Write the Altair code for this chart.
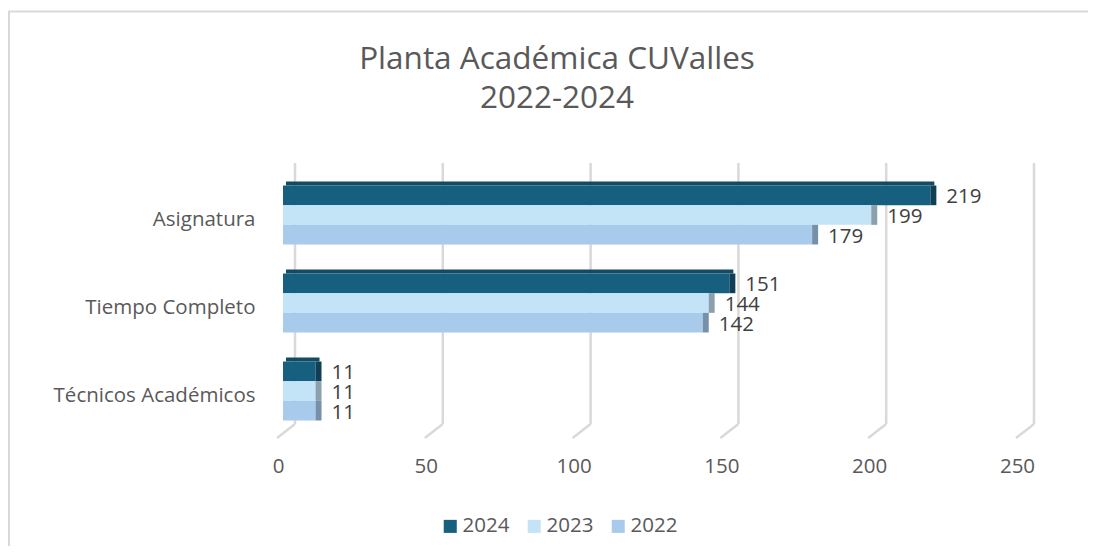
import altair as alt
import pandas as pd

categories = ["Asignatura", "Tiempo Completo", "Técnicos Académicos"]
years = ["2024", "2023", "2022"]
values_2024 = [219, 151, 11]
values_2023 = [199, 144, 11]
values_2022 = [179, 142, 11]
tick_values = [0, 50, 100, 150, 200, 250]
title_lines = ["Planta Académica CUValles", "2022-2024"]

face_colors = ["#175f7e", "#c3e4f6", "#a8cbeb"]
side_colors = ["#0f3f54", "#8aa0ae", "#7690aa"]
top_color = "#124b63"
text_color = "#595959"
grid_color = "#d9d9d9"
FONT = "Open Sans"
FS = 20.5

rows = []
for y, vals in zip(years, [values_2024, values_2023, values_2022]):
    for c, v in zip(categories, vals):
        rows.append({"category": c, "year": y, "value": v, "zero": 0})
df = pd.DataFrame(rows)
ticks_df = pd.DataFrame({"tick": tick_values})
one = pd.DataFrame({"k": [0]})

W, H = 739, 264

xscale = alt.Scale(domain=[0, 250], nice=False, zero=True)
yscale = alt.Scale(domain=categories, paddingInner=0.33, paddingOuter=0.165)
yoff_scale = alt.Scale(domain=years, paddingInner=0, paddingOuter=0)

x_axis = alt.Axis(values=tick_values, domain=False, ticks=False, grid=False,
                  labelFontSize=FS, labelColor=text_color, labelFont=FONT,
                  labelPadding=21, labelOffset=-5, labelFlush=False, title=None)
y_axis = alt.Axis(domain=False, ticks=False, grid=False, labelFontSize=FS,
                  labelColor=text_color, labelFont=FONT, labelPadding=28,
                  labelOffset=5, title=None, labelLimit=400)

grid_back = alt.Chart(ticks_df).mark_rule(color=grid_color, strokeWidth=2.5, xOffset=12).encode(
    x=alt.X("tick:Q", scale=xscale, axis=x_axis),
    y=alt.value(-8), y2=alt.value(253))
grid_diag = alt.Chart(ticks_df).mark_rule(color=grid_color, strokeWidth=2.5, xOffset=12, x2Offset=-6).encode(
    x=alt.X("tick:Q", scale=xscale), x2=alt.X2("tick"),
    y=alt.value(253), y2=alt.value(267))

top_face = alt.Chart(df).transform_filter(alt.datum.year == "2024").mark_bar(
    color=top_color, height=4, yOffset=-31.5, xOffset=3, x2Offset=4).encode(
    y=alt.Y("category:N", scale=yscale, sort=categories, axis=y_axis),
    x=alt.X("zero:Q", scale=xscale), x2=alt.X2("value"))

bars = alt.Chart(df).mark_bar().encode(
    y=alt.Y("category:N", scale=yscale, sort=categories, axis=y_axis),
    yOffset=alt.YOffset("year:N", scale=yoff_scale, sort=years),
    x=alt.X("value:Q", scale=xscale),
    color=alt.Color("year:N", scale=alt.Scale(domain=years, range=face_colors),
                    legend=alt.Legend(title=None, orient="none", direction="horizontal",
                                      legendX=157, legendY=345, symbolType="square",
                                      symbolSize=170, symbolStrokeWidth=0,
                                      labelFontSize=FS, labelColor=text_color, labelFont=FONT,
                                      columnPadding=14, labelOffset=2, padding=0)))

sides = alt.Chart(df).mark_bar(x2Offset=6).encode(
    y=alt.Y("category:N", scale=yscale, sort=categories),
    yOffset=alt.YOffset("year:N", scale=yoff_scale, sort=years),
    x=alt.X("value:Q", scale=xscale), x2=alt.X2("value"),
    fill=alt.Fill("year:N", scale=alt.Scale(domain=years, range=side_colors), legend=None))

labels = alt.Chart(df).mark_text(align="left", baseline="middle", dx=16, dy=2, fontSize=FS,
                                 color="#404040", font=FONT).encode(
    y=alt.Y("category:N", scale=yscale, sort=categories),
    yOffset=alt.YOffset("year:N", scale=yoff_scale, sort=years),
    x=alt.X("value:Q", scale=xscale),
    text=alt.Text("value:Q"))

title1 = alt.Chart(one).mark_text(align="center", baseline="alphabetic", fontSize=31.5,
                                  font=FONT, color=text_color, fontWeight="normal").encode(
    x=alt.value(274), y=alt.value(-102), text=alt.value(title_lines[0]))
title2 = alt.Chart(one).mark_text(align="center", baseline="alphabetic", fontSize=31.5,
                                  font=FONT, color=text_color, fontWeight="normal").encode(
    x=alt.value(274), y=alt.value(-63), text=alt.value(title_lines[1]))

border_left = alt.Chart(one).mark_rule(color=grid_color, strokeWidth=2).encode(
    x=alt.value(-274), y=alt.value(-160), y2=alt.value(400))
border_top = alt.Chart(one).mark_rule(color=grid_color, strokeWidth=2).encode(
    x=alt.value(-275), x2=alt.value(820), y=alt.value(-159.5))

chart = alt.layer(grid_back, grid_diag, top_face, bars, sides, labels,
                  title1, title2, border_left, border_top).properties(
    width=W, height=H,
    autosize=alt.AutoSizeParams(type="none"),
    padding={"left": 275, "top": 163, "right": 66, "bottom": 111},
).resolve_scale(fill="independent").configure_view(stroke=None)

chart.save("out.html", embed_options={"renderer": "svg", "actions": False})
